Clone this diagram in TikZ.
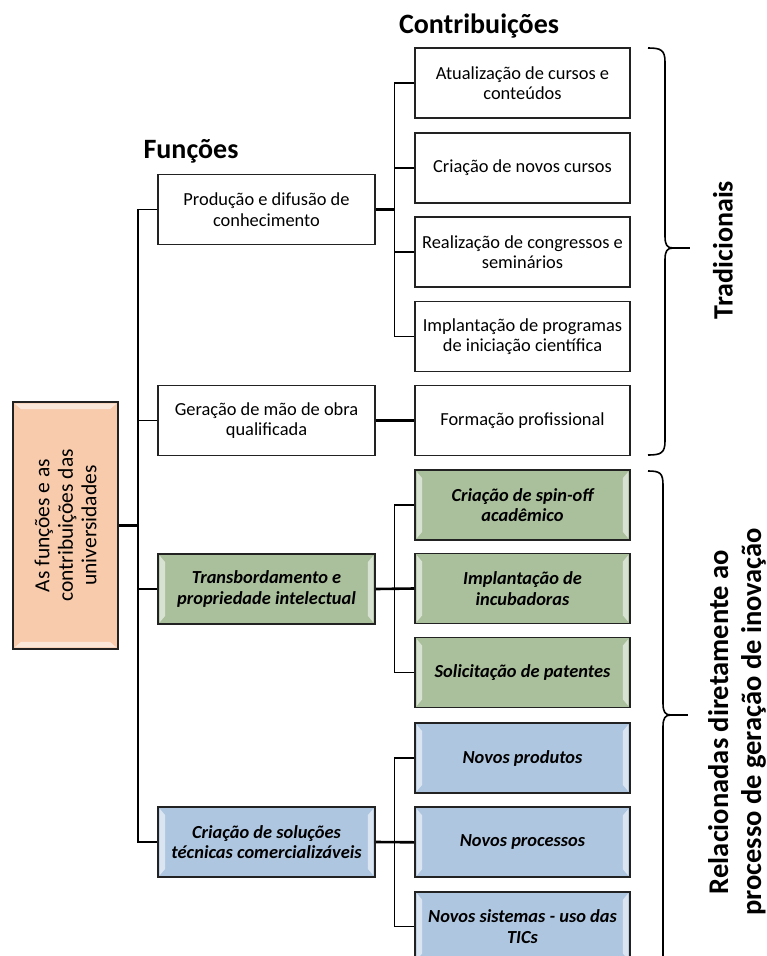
\documentclass[tikz,border=0pt]{standalone}
\usepackage{fontspec}
\setmainfont{Carlito}
\usetikzlibrary{calc}
\definecolor{peach}{HTML}{F8CBAD}
\definecolor{sage}{HTML}{AABF9C}
\definecolor{sky}{HTML}{AFC6E1}
\definecolor{edge}{HTML}{222222}
\tikzset{
  plainbox/.style={draw=edge, line width=1.4pt, fill=white, minimum width=217pt, minimum height=70pt,
    inner sep=0pt, align=center, font=\fontsize{18.4}{20.5}\selectfont},
  contribbox/.style={plainbox, minimum width=215pt},
  greenbox/.style={plainbox, fill=sage, line width=1.8pt, font=\fontsize{18.4}{20.5}\selectfont\bfseries\itshape},
  bluebox/.style={greenbox, fill=sky},
  rootbox/.style={draw=edge, line width=1.8pt, fill=peach, minimum width=105pt, minimum height=247pt, inner sep=0pt},
  hdr/.style={font=\fontsize{28}{34}\selectfont\bfseries, inner sep=0pt, align=center},
  ln/.style={line width=1.6pt, draw=black},
  thickln/.style={line width=2.6pt, draw=black},
  brace/.style={line width=1.6pt, draw=black, line join=round},
  hilite/.style={fill=white, opacity=0.55, draw=none},
}
\newcommand\bevelsides[1]{%
  \fill[hilite] ($(#1.north west)+(2.5,2.5)$) -- ($(#1.north west)+(8,9)$) -- ($(#1.south west)+(8,-9)$) -- ($(#1.south west)+(2.5,-2.5)$) -- cycle;
  \fill[hilite] ($(#1.north east)+(-2.5,2.5)$) -- ($(#1.north east)+(-8,9)$) -- ($(#1.south east)+(-8,-9)$) -- ($(#1.south east)+(-2.5,-2.5)$) -- cycle;}
\newcommand\beveltopbot[1]{%
  \fill[hilite] ($(#1.north west)+(2.5,2.5)$) -- ($(#1.north west)+(9,8)$) -- ($(#1.north east)+(-9,8)$) -- ($(#1.north east)+(-2.5,2.5)$) -- cycle;
  \fill[hilite] ($(#1.south west)+(2.5,-2.5)$) -- ($(#1.south west)+(9,-8)$) -- ($(#1.south east)+(-9,-8)$) -- ($(#1.south east)+(-2.5,-2.5)$) -- cycle;}
\begin{document}
\begin{tikzpicture}[x=1pt,y=-1pt]
\useasboundingbox (0,0) rectangle (767,956);
\clip (0,0) rectangle (767,956);

% headers
\node[hdr] (hcontrib) at (479,26) {Contribuições};
\node[hdr] (hfunc) at (191,151) {Funções};

% root
\node[rootbox] (root) at (65.5,525.5) {};
\beveltopbot{root}
\node[rotate=90, align=center, inner sep=0pt, font=\fontsize{21.5}{23.5}\selectfont] (roottxt) at (root.center)
  {As funções e as\\contribuições das\\universidades};

% functions
\node[plainbox] (f1) at (266.5,209.5) {Produção e difusão de\\conhecimento};
\node[plainbox] (f2) at (266.5,420.5) {Geração de mão de obra\\qualificada};
\node[greenbox] (f3) at (266.5,589) {Transbordamento e\\propriedade intelectual};
\node[bluebox] (f4) at (266.5,842) {Criação de soluções\\técnicas comercializáveis};
\bevelsides{f3}
\bevelsides{f4}

% contributions
\node[contribbox] (c1) at (522.5,83) {Atualização de cursos e\\conteúdos};
\node[contribbox] (c2) at (522.5,168) {Criação de novos cursos};
\node[contribbox] (c3) at (522.5,252) {Realização de congressos e\\seminários};
\node[contribbox] (c4) at (522.5,336.5) {Implantação de programas\\de iniciação científica};
\node[contribbox] (c5) at (522.5,420.5) {Formação profissional};
\node[greenbox, minimum width=215pt] (g1) at (522.5,505) {Criação de spin-off\\acadêmico};
\node[greenbox, minimum width=215pt] (g2) at (522.5,588.5) {Implantação de\\incubadoras};
\node[greenbox, minimum width=215pt] (g3) at (522.5,672.5) {Solicitação de patentes};
\node[bluebox, minimum width=215pt] (b1) at (522.5,758) {Novos produtos};
\node[bluebox, minimum width=215pt] (b2) at (522.5,842.3) {Novos processos};
\node[bluebox, minimum width=215pt] (b3) at (522.5,926.6) {Novos sistemas - uso das\\TICs};
\foreach \n in {g1,g2,g3,b1,b2,b3} {\bevelsides{\n}}

% main trunk
\coordinate (trunk) at (138,0);
\draw[ln] (f1.west) -- (f1.west -| trunk) -- (f4.west -| trunk) -- (f4.west);
\draw[ln] (f2.west) -- (f2.west -| trunk);
\draw[ln] (f3.west) -- (f3.west -| trunk);
\draw[thickln] (root.east) -- (root.east -| trunk);

% branches
\coordinate (br) at (394.5,0);
\draw[ln] (c1.west) -- (c1.west -| br) -- (c4.west -| br) -- (c4.west);
\draw[ln] (c2.west) -- (c2.west -| br);
\draw[ln] (c3.west) -- (c3.west -| br);
\draw[thickln] (f1.east) -- (f1.east -| br);
\draw[thickln] (f2.east) -- (c5.west);

\draw[ln] (g1.west) -- (g1.west -| br) -- (g3.west -| br) -- (g3.west);
\draw[thickln] (f3.east) -- (g2.west);

\draw[ln] (b1.west) -- (b1.west -| br) -- (b3.west -| br) -- (b3.west);
\draw[thickln] (f4.east) -- (b2.west);

% braces
\draw[brace] (648,48) .. controls (661,48) and (665,50) .. (665,62) -- (665,236)
  .. controls (665,245) and (667,248) .. (673,248) .. controls (667,248) and (665,251) .. (665,260)
  -- (665,441) .. controls (665,453) and (661,455) .. (648,455);
\coordinate (tipA) at (690,248);
\draw[brace] (673,248) -- (tipA);
\draw[brace] (648,471) .. controls (660,471) and (663,473) .. (663,485) -- (663,703)
  .. controls (663,712) and (665,715) .. (671,715) .. controls (665,715) and (663,718) .. (663,727)
  -- (663,970);
\coordinate (tipB) at (688,715);
\draw[brace] (671,715) -- (tipB);

% side labels
\node[hdr, rotate=90] (trad) at (723,250) {Tradicionais};
\node[hdr, rotate=90, font=\fontsize{28.5}{33}\selectfont\bfseries] (rel) at (737,722) {Relacionadas diretamente ao\\processo de geração de inovação};
\end{tikzpicture}
\end{document}
